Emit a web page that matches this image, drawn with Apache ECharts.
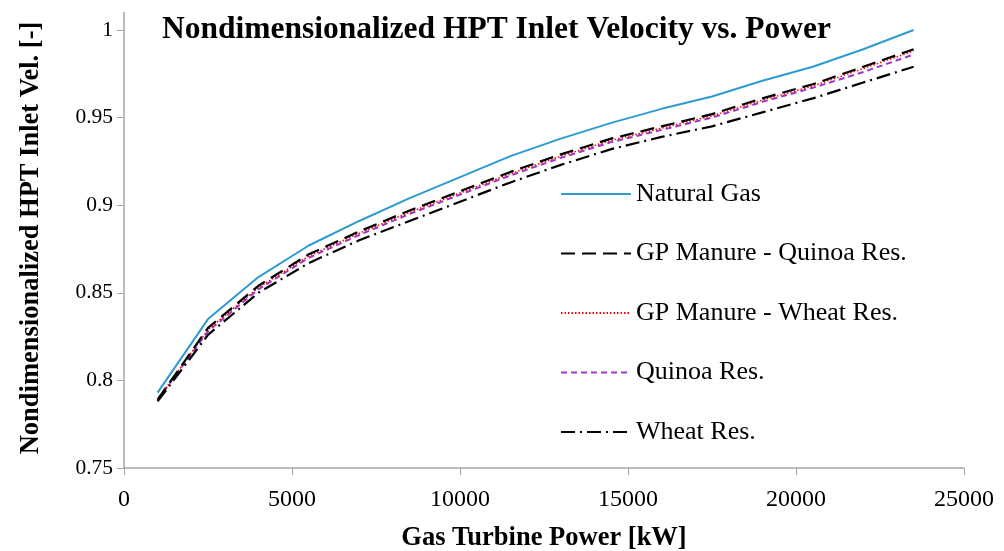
<!DOCTYPE html>
<html>
<head>
<meta charset="utf-8">
<script src="https://cdn.jsdelivr.net/npm/echarts@6/dist/echarts.min.js"></script>
<style>html,body{margin:0;padding:0;background:#fff}#c{width:1004px;height:551px}</style>
</head>
<body>
<div id="c"></div>
<script>
var power = [1000, 2500, 4000, 5500, 7000, 8500, 10000, 11500, 13000, 14500, 16000, 17500, 19000, 20500, 22000, 23500];
var naturalGas   = [0.793, 0.835, 0.859, 0.877, 0.891, 0.904, 0.916, 0.928, 0.938, 0.947, 0.955, 0.962, 0.971, 0.979, 0.989, 1.000];
var gpQuinoa     = [0.789, 0.830, 0.854, 0.872, 0.885, 0.897, 0.908, 0.919, 0.929, 0.938, 0.945, 0.952, 0.961, 0.969, 0.979, 0.989];
var gpWheat      = [0.789, 0.829, 0.853, 0.871, 0.884, 0.896, 0.907, 0.918, 0.928, 0.937, 0.944, 0.951, 0.960, 0.968, 0.978, 0.988];
var quinoaRes    = [0.789, 0.828, 0.852, 0.870, 0.883, 0.895, 0.906, 0.917, 0.927, 0.936, 0.943, 0.950, 0.959, 0.967, 0.976, 0.986];
var wheatRes     = [0.788, 0.826, 0.850, 0.867, 0.880, 0.891, 0.902, 0.913, 0.923, 0.932, 0.939, 0.945, 0.953, 0.961, 0.970, 0.979];
var seriesNames = ['Natural Gas', 'GP Manure - Quinoa Res.', 'GP Manure - Wheat Res.', 'Quinoa Res.', 'Wheat Res.'];

function pairs(ys){ return power.map(function(x,i){ return [x, ys[i]]; }); }
var font = '"Liberation Serif","Times New Roman",serif';
var chart = echarts.init(document.getElementById('c'));
chart.setOption({
  animation: false,
  backgroundColor: '#fff',
  title: {
    text: 'Nondimensionalized HPT Inlet Velocity vs. Power',
    left: 157, top: 9,
    textStyle: { fontFamily: font, fontSize: 31.5, fontWeight: 'bold', color: '#000' }
  },
  grid: { left: 124, right: 40, top: 30, bottom: 83, containLabel: false, outerBoundsMode: 'none' },
  legend: {
    orient: 'vertical', left: 555, top: 176,
    itemWidth: 70, itemHeight: 14, itemGap: 33.5,
    data: seriesNames,
    itemStyle: { opacity: 0 },
    textStyle: { fontFamily: font, fontSize: 26, color: '#000', padding: [0,0,0,0] }
  },
  xAxis: {
    type: 'value', min: 0, max: 25000, interval: 5000,
    name: 'Gas Turbine Power [kW]', nameLocation: 'middle', nameGap: 57,
    nameTextStyle: { fontFamily: font, fontSize: 26.5, fontWeight: 'bold', color: '#000' },
    axisLine: { show: true, lineStyle: { color: '#a6a6a6', width: 1.5 } },
    axisTick: { show: true, inside: false, length: 7, lineStyle: { color: '#a6a6a6' } },
    axisLabel: { fontFamily: font, fontSize: 24, color: '#000', margin: 20,
      formatter: function(v){ return String(v); } },
    splitLine: { show: false }
  },
  yAxis: {
    type: 'value', min: 0.75, max: 1, interval: 0.05,
    name: 'Nondimensionalized HPT Inlet Vel. [-]', nameLocation: 'middle', nameGap: 79,
    nameTextStyle: { fontFamily: font, fontSize: 26.5, fontWeight: 'bold', color: '#000', padding: [0, 0, 0, 22] },
    axisLine: { show: true, lineStyle: { color: '#a6a6a6', width: 1.5 } },
    axisTick: { show: true, inside: false, length: 7, lineStyle: { color: '#a6a6a6' } },
    axisLabel: { fontFamily: font, fontSize: 21.5, color: '#000', margin: 11,
      formatter: function(v){ return String(parseFloat(v.toFixed(2))); } },
    splitLine: { show: false }
  },
  graphic: [{
    type: 'line', shape: { x1: 124, y1: 12, x2: 124, y2: 30 },
    style: { stroke: '#a6a6a6', lineWidth: 1.5 }
  }],
  series: [
    { name: seriesNames[0], type: 'line', data: pairs(naturalGas), symbol: 'none',
      lineStyle: { color: '#2e9bd0', width: 2, type: 'solid' }, itemStyle: { color: '#2e9bd0' } },
    { name: seriesNames[3], type: 'line', data: pairs(quinoaRes), symbol: 'none',
      lineStyle: { color: '#9b38c8', width: 2, type: [6, 4] }, itemStyle: { color: '#9b38c8' } },
    { name: seriesNames[2], type: 'line', data: pairs(gpWheat), symbol: 'none',
      lineStyle: { color: '#ff0000', width: 1.5, type: [1.5, 2] }, itemStyle: { color: '#ff0000' } },
    { name: seriesNames[1], type: 'line', data: pairs(gpQuinoa), symbol: 'none',
      lineStyle: { color: '#000', width: 2.2, type: [14, 7] }, itemStyle: { color: '#000' } },
    { name: seriesNames[4], type: 'line', data: pairs(wheatRes), symbol: 'none',
      lineStyle: { color: '#000', width: 2.2, type: [14, 5, 2, 5] }, itemStyle: { color: '#000' } }
  ]
});
</script>
</body>
</html>
